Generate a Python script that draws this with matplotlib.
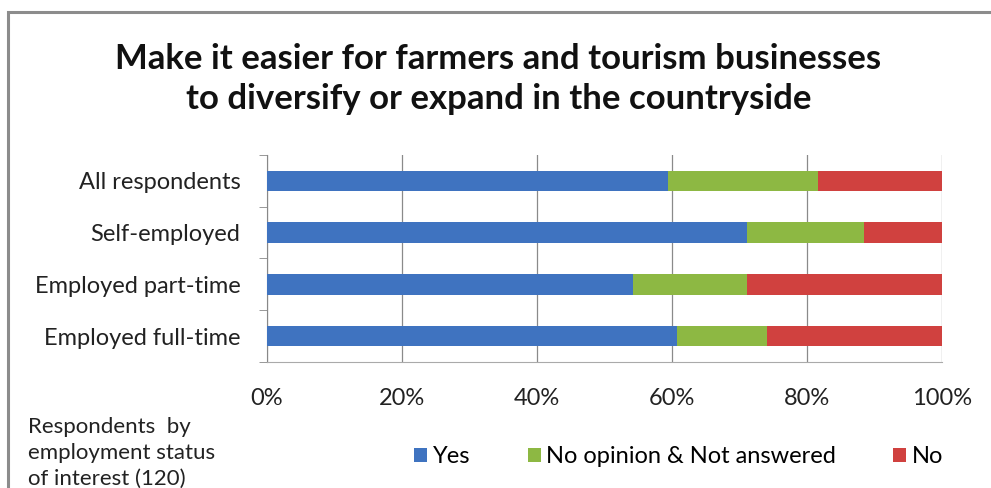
import numpy as np
from matplotlib import pyplot as plt
from matplotlib.patches import Rectangle

plt.rcParams['font.family'] = ['Lato', 'DejaVu Sans']

# data (percent of respondents)
categories = ["All respondents", "Self-employed", "Employed part-time", "Employed full-time"]
yes = [59.4, 71.1, 54.2, 60.7]
no_opinion = [22.2, 17.3, 16.9, 13.4]
no = [18.4, 11.6, 28.9, 25.9]
series_names = ["Yes", "No opinion & Not answered", "No"]
xticks = [0, 20, 40, 60, 80, 100]

colors = ["#3f73c0", "#8db843", "#d0413f"]

fig = plt.figure(figsize=(9.91, 4.88), dpi=100)
ax = fig.add_axes([0.2694, 0.2582, 0.6812, 0.4242])

y = np.arange(len(categories))
left = np.zeros(len(categories))
bars = []
for vals, col, name in zip([yes, no_opinion, no], colors, series_names):
    b = ax.barh(y, vals, left=left, height=0.4, color=col, label=name, zorder=3)
    bars.append(b)
    left = left + np.array(vals)

ax.set_xlim(0, 100)
ax.set_ylim(len(categories) - 0.5, -0.5)
ax.set_yticks(y)
ax.set_yticklabels(categories, fontsize=17, color="#222222")
ax.set_yticks(np.arange(len(categories) + 1) - 0.5, minor=True)
ax.tick_params(axis="y", which="major", length=0, pad=19)
ax.tick_params(axis="y", which="minor", length=6, color="#888888", direction="out")
ax.set_xticks(xticks)
ax.set_xticklabels([f"{t}%" for t in xticks], fontsize=17, color="#222222")
ax.tick_params(axis="x", length=0, pad=19)
ax.grid(axis="x", color="#8a8a8a", linewidth=0.9, zorder=0)

for s in ["top", "right"]:
    ax.spines[s].set_visible(False)
ax.spines["left"].set_color("#888888")
ax.spines["bottom"].set_color("#aaaaaa")

fig.text(0.503, 0.838, "Make it easier for farmers and tourism businesses\nto diversify or expand in the countryside",
         ha="center", va="center", fontsize=25, fontweight="bold", linespacing=1.3, color="#111111")

fig.legend(handles=bars, labels=series_names, loc="center", bbox_to_anchor=(0.685, 0.064),
           ncol=3, frameon=False, fontsize=17, handlelength=0.55, handleheight=0.55,
           handletextpad=0.25, columnspacing=2.4)

fig.text(0.028, 0.072, "Respondents  by\nemployment status\nof interest (120)", ha="left", va="center",
         fontsize=16, linespacing=1.36, color="#222222")

fig.add_artist(Rectangle((8 / 991, -0.1), 1.1, 1 - 12 / 488 + 0.1, transform=fig.transFigure,
                         fill=False, edgecolor="#8c8c8c", linewidth=2.2))

fig.savefig("out.png", dpi=100)
